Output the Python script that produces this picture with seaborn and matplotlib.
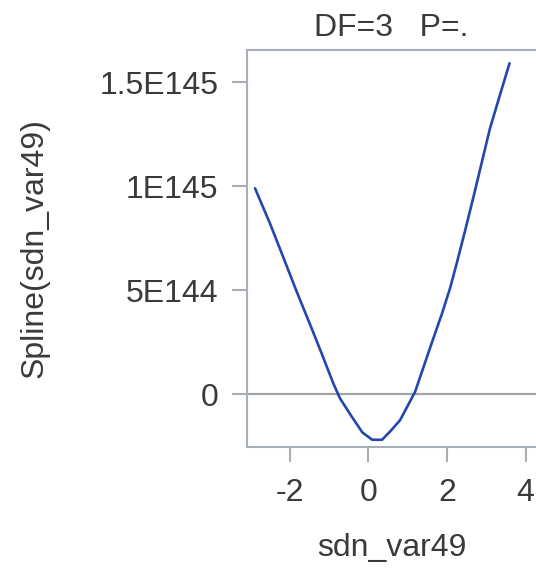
import matplotlib
matplotlib.use("Agg")
import matplotlib.pyplot as plt
import seaborn as sns
import pandas as pd

# Data (y in units of 1E144)
x_vals = [-2.88, -2.50, -2.15, -1.82, -1.48, -1.18, -0.89, -0.72, -0.42, -0.15,
          0.10, 0.35, 0.59, 0.81, 1.19, 1.61, 1.87, 2.08, 2.25, 2.46,
          2.67, 2.88, 3.09, 3.35, 3.59]
y_e144 = [9.89, 8.20, 6.52, 4.92, 3.34, 1.92, 0.51, -0.21, -1.09, -1.85,
          -2.20, -2.20, -1.73, -1.25, 0.11, 2.44, 3.85, 5.10, 6.30, 7.85,
          9.45, 11.10, 12.75, 14.40, 15.90]
y_ticks = [0.0, 5e144, 1e145, 1.5e145]
y_tick_labels = ["0", "5E144", "1E145", "1.5E145"]
x_ticks = [-2, 0, 2, 4]
x_tick_labels = ["-2", "0", "2", "4"]
title = "DF=3   P=."
x_label = "sdn_var49"
y_label = "Spline(sdn_var49)"

df = pd.DataFrame({"x": x_vals, "y": [v * 1e144 for v in y_e144]})

sns.set_style("white")
plt.rcParams["font.family"] = ["Liberation Sans", "DejaVu Sans"]

txt = "#3a3a3a"
spine_c = "#a7aeb5"

fig = plt.figure(figsize=(5.36, 5.74), dpi=100)
ax = fig.add_axes([247 / 536, 1 - 447 / 574, (536 - 247) / 536, (447 - 50) / 574])

ax.axhline(0, color="#a0a4a8", lw=1.6, zorder=1)
sns.lineplot(data=df, x="x", y="y", ax=ax, color="#2447ad", lw=1.9, sort=False, zorder=2)

ax.set_xlim(-3.084, 4.263)
ax.set_ylim(-2.548e144, 16.54e144)

ax.set_yticks(y_ticks)
ax.set_yticklabels(y_tick_labels)
ax.set_xticks(x_ticks)
ax.set_xticklabels(x_tick_labels)

ax.tick_params(axis="both", direction="out", length=10.5, width=1.5,
               color=spine_c, labelsize=23, labelcolor=txt)
ax.tick_params(axis="y", pad=10, left=True)
ax.tick_params(axis="x", pad=12, bottom=True)

for side in ["left", "bottom", "top"]:
    ax.spines[side].set_color(spine_c)
    ax.spines[side].set_linewidth(1.5)
ax.spines["right"].set_visible(False)

ax.set_title(title, fontsize=23, color=txt, pad=10)
ax.set_xlabel(x_label, fontsize=23, color=txt)
ax.set_ylabel(y_label, fontsize=23, color=txt)
ax.xaxis.set_label_coords(0.5, -(548 - 447) / 397)
ax.xaxis.label.set_va("center")
ax.yaxis.set_label_coords((35 - 247) / 289, 0.5)
ax.yaxis.label.set_va("center")

fig.savefig("out.png", dpi=100)
